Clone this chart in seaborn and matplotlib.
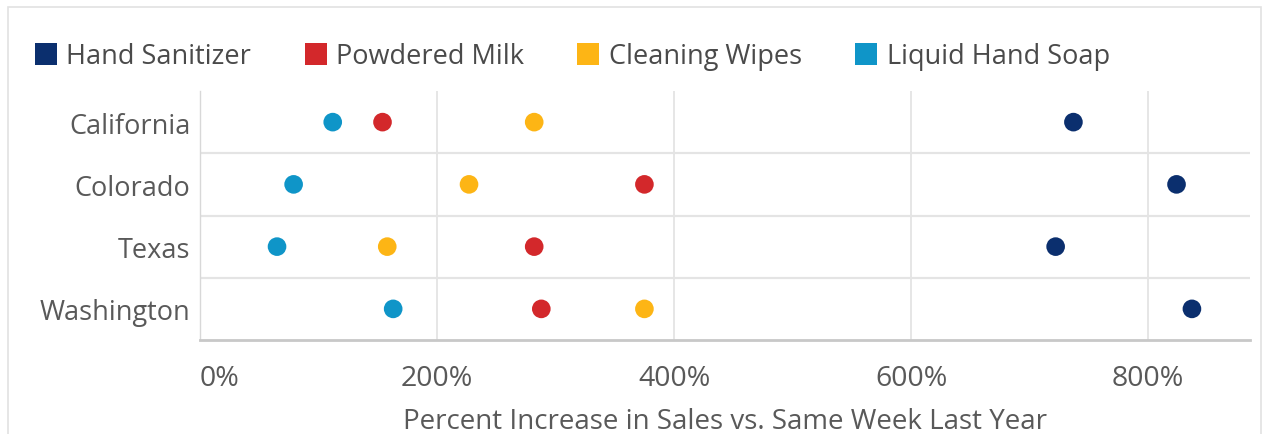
import matplotlib
matplotlib.use("Agg")
import matplotlib.pyplot as plt
from matplotlib.lines import Line2D
from matplotlib.patches import Rectangle
import pandas as pd
import seaborn as sns

# Weekly sales increase by state, in percent
states = ["California", "Colorado", "Texas", "Washington"]
hand_sanitizer = [737, 824, 722, 837]
powdered_milk = [154, 375, 282, 288]
cleaning_wipes = [282, 227, 158, 375]
liquid_hand_soap = [112, 79, 65, 163]

products = ["Hand Sanitizer", "Powdered Milk", "Cleaning Wipes", "Liquid Hand Soap"]
colors = ["#0b2f6e", "#d3282b", "#fdb515", "#0f95c8"]
x_ticks = [0, 200, 400, 600, 800]
x_title = "Percent Increase in Sales vs. Same Week Last Year"

series = [hand_sanitizer, powdered_milk, cleaning_wipes, liquid_hand_soap]
df = pd.DataFrame(
    [(st, prod, val) for prod, vals in zip(products, series) for st, val in zip(states, vals)],
    columns=["state", "product", "increase"],
)
df["state"] = pd.Categorical(df["state"], categories=states, ordered=True)

sns.set_style("white")
plt.rcParams["font.family"] = ["Open Sans", "DejaVu Sans"]

W, H = 1270, 435
fig = plt.figure(figsize=(W / 100, H / 100), dpi=100)
ax = fig.add_axes([200 / W, 94 / H, 1050 / W, 249 / H])

text_col = "#595959"
grid_col = "#e4e4e4"

sns.scatterplot(
    data=df, x="increase", y="state", hue="product", hue_order=products,
    palette=colors, s=180, linewidth=0, legend=False, ax=ax, zorder=3,
)

ax.set_xlim(0, 886)
ax.set_ylim(3.5, -0.5)
ax.set_xticks(x_ticks)
ax.set_xticklabels([f"{v}%" for v in x_ticks])
ax.get_xticklabels()[0].set_horizontalalignment("left")
ax.set_yticks(range(len(states)))
ax.set_yticklabels(states)

for v in x_ticks[1:]:
    ax.axvline(v, color=grid_col, lw=1.3, zorder=1)
for y in [0.5, 1.5, 2.5]:
    ax.axhline(y, color=grid_col, lw=1.6, zorder=1)

for side in ["top", "right"]:
    ax.spines[side].set_visible(False)
ax.spines["left"].set_color("#d8d8d8")
ax.spines["left"].set_linewidth(1.0)
ax.spines["bottom"].set_color("#c8c8c8")
ax.spines["bottom"].set_linewidth(2.0)

ax.tick_params(axis="x", length=6, width=1.2, color="#b0b0b0", pad=11,
               labelsize=20.5, labelcolor=text_col)
ax.tick_params(axis="y", length=0, pad=7, labelsize=19.5, labelcolor=text_col)
ax.set_ylabel("")
ax.set_xlabel(x_title, fontsize=20, color=text_col, labelpad=11)

# Legend with square swatches across the top
fs = 19.5
fs_px = fs * 100 / 72
handles = [Line2D([], [], marker="s", linestyle="", markersize=16,
                  markerfacecolor=c, markeredgewidth=0) for c in colors]
fig.legend(handles, products, loc="center left",
           bbox_to_anchor=((46 - fs_px / 2) / W, 1 - 57 / H),
           ncol=4, frameon=False, fontsize=fs, labelcolor="#4a4a4a",
           handlelength=1.0, handletextpad=0.25, columnspacing=1.88,
           borderpad=0, borderaxespad=0)

# Light frame around the panel
fig.add_artist(Rectangle((8 / W, -0.1), (1261 - 8) / W, 1.1 - 8 / H,
                         transform=fig.transFigure, fill=False,
                         edgecolor="#e2e2e2", linewidth=1.2))

fig.savefig("out.png", dpi=100)
